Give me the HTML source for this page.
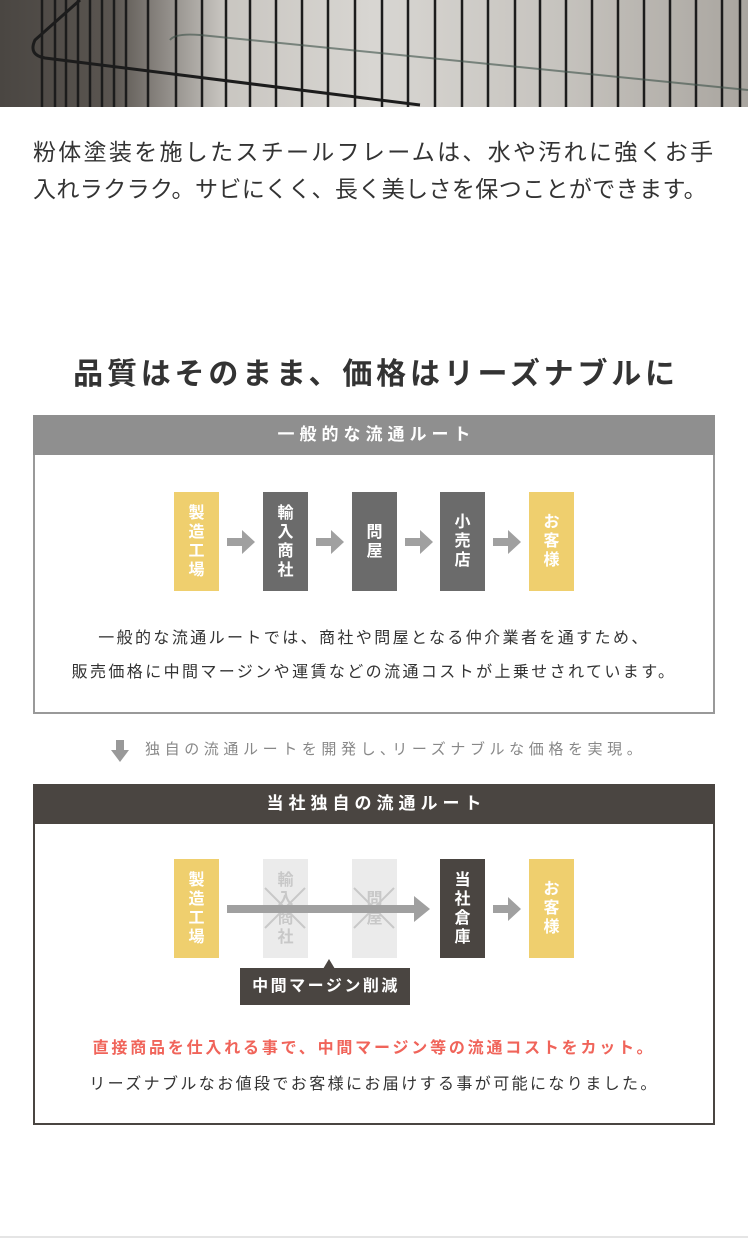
<!DOCTYPE html><html><head><meta charset="utf-8"><style>
*{margin:0;padding:0;box-sizing:border-box}
body{width:748px;height:1250px;background:#fff;position:relative;font-family:"Liberation Sans","Noto Sans CJK JP",sans-serif;overflow:hidden}
.a{position:absolute}
.box{position:absolute;width:45px;height:99px;color:#fff;font-size:16px;font-weight:bold;line-height:19px;display:flex;align-items:center;justify-content:center;text-align:center}
.y{background:#efcf6e}.g{background:#6b6b6b}.d{background:#4a4541}.l{background:#ebebeb;color:#c8c8c8}
.c{text-align:center;width:748px;left:0;white-space:nowrap}
</style></head><body>
<div class="a" style="left:0;top:0;width:748px;height:107px;background:linear-gradient(90deg,#4a4642 0%,#5a5550 15%,#c9c6c1 30%,#d8d6d2 50%,#c6c3be 75%,#a9a59f 100%)">
<svg width="748" height="107" style="position:absolute;left:0;top:0">
<g stroke="#1c1c1c" stroke-width="2.5">
<line x1="42" y1="0" x2="42" y2="107"/><line x1="55" y1="0" x2="55" y2="107"/><line x1="66" y1="0" x2="66" y2="107"/><line x1="78" y1="0" x2="78" y2="107"/><line x1="90" y1="0" x2="90" y2="107"/><line x1="102" y1="0" x2="102" y2="107"/><line x1="114" y1="0" x2="114" y2="107"/><line x1="126" y1="0" x2="126" y2="107"/><line x1="148" y1="0" x2="148" y2="107"/><line x1="176" y1="0" x2="176" y2="107"/><line x1="202" y1="0" x2="202" y2="107"/><line x1="226" y1="0" x2="226" y2="107"/><line x1="250" y1="0" x2="250" y2="107"/><line x1="276" y1="0" x2="276" y2="107"/><line x1="302" y1="0" x2="302" y2="107"/><line x1="328" y1="0" x2="328" y2="107"/><line x1="355" y1="0" x2="355" y2="107"/><line x1="382" y1="0" x2="382" y2="107"/><line x1="408" y1="0" x2="408" y2="107"/><line x1="435" y1="0" x2="435" y2="107"/><line x1="462" y1="0" x2="462" y2="107"/><line x1="488" y1="0" x2="488" y2="107"/><line x1="515" y1="0" x2="515" y2="107"/><line x1="540" y1="0" x2="540" y2="107"/><line x1="566" y1="0" x2="566" y2="107"/><line x1="592" y1="0" x2="592" y2="107"/><line x1="618" y1="0" x2="618" y2="107"/><line x1="644" y1="0" x2="644" y2="107"/><line x1="670" y1="0" x2="670" y2="107"/><line x1="696" y1="0" x2="696" y2="107"/><line x1="722" y1="0" x2="722" y2="107"/><line x1="740" y1="0" x2="740" y2="107"/>
</g>
<path d="M80 0 L35 40 Q28 55 45 58 L420 105" stroke="#1c1c1c" stroke-width="3" fill="none"/>
<path d="M170 40 Q175 33 200 35 L748 90" stroke="#3c5048" stroke-width="2" fill="none" opacity=".6"/>
</svg></div>
<div class="a" style="left:33px;top:134px;font-size:23px;line-height:37px;color:#333;white-space:nowrap"><span style="letter-spacing:2.3px">粉体塗装を施したスチールフレームは、水や汚れに強くお手</span><br><span style="letter-spacing:0.4px">入れラクラク。サビにくく、長く美しさを保つことができます。</span></div>
<div class="a c" style="top:349px;font-size:30px;font-weight:bold;color:#333;letter-spacing:3.8px;text-indent:4px">品質はそのまま、価格はリーズナブルに</div>

<div class="a" style="left:33px;top:415px;width:682px;height:299px;border:2px solid #999;border-top:none"></div>
<div class="a" style="left:33px;top:415px;width:682px;height:40px;background:#8f8f8f;color:#fff;font-size:17px;font-weight:bold;letter-spacing:5px;text-indent:5px;text-align:center;line-height:40px">一般的な流通ルート</div>
<div class="box y" style="left:174px;top:492px">製<br>造<br>工<br>場</div>
<div class="box g" style="left:263px;top:492px">輸<br>入<br>商<br>社</div>
<div class="box g" style="left:352px;top:492px">問<br>屋</div>
<div class="box g" style="left:440px;top:492px">小<br>売<br>店</div>
<div class="box y" style="left:529px;top:492px">お<br>客<br>様</div>
<svg class="a" style="left:0;top:0" width="748" height="1250">
<g fill="#a0a0a0">
<path d="M227 538h15v-8l13 12-13 12v-8h-15z"/>
<path d="M316 538h15v-8l13 12-13 12v-8h-15z"/>
<path d="M405 538h15v-8l13 12-13 12v-8h-15z"/>
<path d="M493 538h15v-8l13 12-13 12v-8h-15z"/>
<path d="M493 905h15v-8l13 12-13 12v-8h-15z"/>
<path d="M116 740h8v10h5l-9 12-9-12h5z" fill="#999"/>
</g>
</svg>
<div class="a c" style="top:622px;font-size:16px;line-height:34px;color:#333;letter-spacing:2.4px">一般的な流通ルートでは、商社や問屋となる仲介業者を通すため、<br>販売価格に中間マージンや運賃などの流通コストが上乗せされています。</div>
<div class="a" style="left:145px;top:738px;font-size:15px;color:#888;letter-spacing:4.6px;white-space:nowrap">独自の流通ルートを開発し､リーズナブルな価格を実現。</div>

<div class="a" style="left:33px;top:784px;width:682px;height:341px;border:2px solid #4a4541;border-top:none"></div>
<div class="a" style="left:33px;top:784px;width:682px;height:40px;background:#4a4541;color:#fff;font-size:17px;font-weight:bold;letter-spacing:5px;text-indent:5px;text-align:center;line-height:40px">当社独自の流通ルート</div>
<div class="box y" style="left:174px;top:859px">製<br>造<br>工<br>場</div>
<div class="box l" style="left:263px;top:859px">輸<br>入<br>商<br>社</div>
<div class="box l" style="left:352px;top:859px">問<br>屋</div>
<div class="box d" style="left:440px;top:859px">当<br>社<br>倉<br>庫</div>
<div class="box y" style="left:529px;top:859px">お<br>客<br>様</div>
<svg class="a" style="left:0;top:0" width="748" height="1250">
<g stroke="#c8c8c8" stroke-width="2"><line x1="265" y1="888" x2="305" y2="928"/><line x1="305" y1="888" x2="265" y2="928"/><line x1="354" y1="888" x2="394" y2="928"/><line x1="394" y1="888" x2="354" y2="928"/></g>
<path d="M227 905h187v-9l16 13-16 13v-9h-187z" fill="#a0a0a0"/>
<path d="M329 959l6 10h-12z" fill="#4a4541"/>
</svg>
<div class="a" style="left:240px;top:968px;width:170px;height:37px;background:#4a4541;color:#fff;font-size:16px;font-weight:bold;line-height:37px;text-align:center;letter-spacing:2.5px;text-indent:2px">中間マージン削減</div>
<div class="a c" style="top:1034px;font-size:16px;font-weight:bold;color:#f0645a;letter-spacing:2.8px">直接商品を仕入れる事で、中間マージン等の流通コストをカット。</div>
<div class="a c" style="top:1070px;font-size:16px;color:#333;letter-spacing:2.4px">リーズナブルなお値段でお客様にお届けする事が可能になりました。</div>
<div class="a" style="left:0;top:1236px;width:748px;height:2px;background:#e5e5e5"></div>
</body></html>
